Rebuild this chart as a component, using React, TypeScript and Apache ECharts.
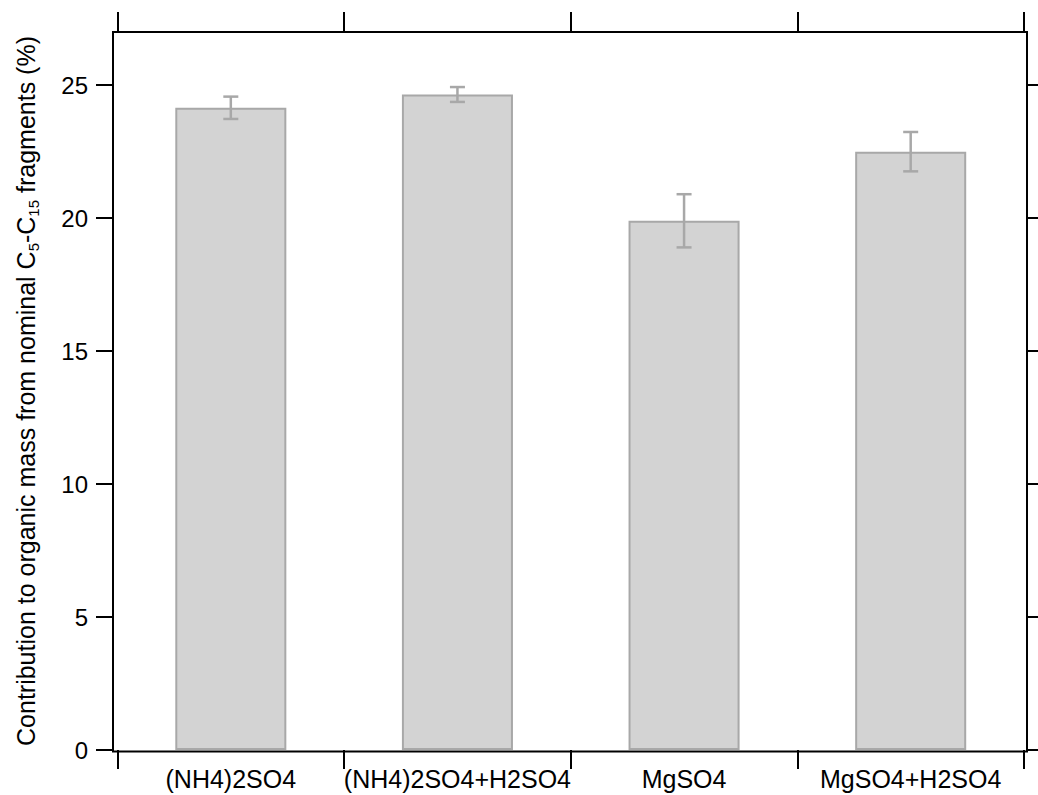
import React, { useEffect, useRef } from "react";
import * as echarts from "echarts";

const categories = ["(NH4)2SO4", "(NH4)2SO4+H2SO4", "MgSO4", "MgSO4+H2SO4"];
const values = [24.15, 24.65, 19.9, 22.5];
const errors = [0.42, 0.28, 1.0, 0.74];
const yTicks = [0, 5, 10, 15, 20, 25];

const FONT = "'Liberation Sans', Arial, sans-serif";

export default function App() {
  const ref = useRef<HTMLDivElement>(null);
  useEffect(() => {
    if (!ref.current) return;
    const chart = echarts.init(ref.current, null, { renderer: "svg" });
    const errData = values.map((v, i) => [i, v - errors[i], v + errors[i]]);
    const tickStyle = { color: "#000", width: 2 };
    chart.setOption({
      animation: false,
      backgroundColor: "#fff",
      textStyle: { fontFamily: FONT },
      grid: { left: 117.5, right: 14, top: 32, bottom: 45, containLabel: false },
      graphic: [
        {
          type: "rect",
          shape: { x: 113, y: 32, width: 914, height: 719.5 },
          style: { fill: "none", stroke: "#000", lineWidth: 2 },
          z: 10,
        },
      ],
      xAxis: [
        {
          type: "category",
          data: categories,
          position: "bottom",
          axisLine: { show: false, onZero: false },
          axisTick: { show: true, interval: 0, length: 19, inside: false, lineStyle: tickStyle },
          axisLabel: { color: "#000", fontSize: 25, fontFamily: FONT, margin: 16, interval: 0, hideOverlap: false },
          splitLine: { show: false },
        },
        {
          type: "category",
          data: categories,
          position: "top",
          axisLine: { show: false, onZero: false },
          axisTick: { show: true, interval: 0, length: 20, inside: false, lineStyle: tickStyle },
          axisLabel: { show: false, interval: 0 },
          splitLine: { show: false },
        },
      ],
      yAxis: [
        {
          type: "value",
          min: 0,
          max: 27,
          interval: 5,
          position: "left",
          offset: 4.5,
          axisLine: { show: false, onZero: false },
          axisTick: { show: true, length: 17, inside: false, lineStyle: tickStyle, customValues: yTicks },
          axisLabel: { color: "#000", fontSize: 24, fontFamily: FONT, margin: 25, customValues: yTicks },
          splitLine: { show: false },
          name: "Contribution to organic mass from nominal C{sub|5}-C{sub|15} fragments (%)",
          nameLocation: "middle",
          nameRotate: 90,
          nameGap: 72,
          nameTextStyle: {
            color: "#000",
            fontSize: 25,
            fontFamily: FONT,
            lineHeight: 30,
            rich: {
              sub: { fontSize: 15, lineHeight: 15, verticalAlign: "bottom", color: "#000", fontFamily: FONT },
            },
          },
        },
        {
          type: "value",
          min: 0,
          max: 27,
          interval: 5,
          position: "right",
          offset: 3,
          axisLine: { show: false, onZero: false },
          axisTick: { show: true, length: 17, inside: false, lineStyle: tickStyle, customValues: yTicks },
          axisLabel: { show: false },
          splitLine: { show: false },
        },
      ],
      series: [
        {
          type: "bar",
          data: values,
          barWidth: "49%",
          itemStyle: { color: "#d3d3d3", borderColor: "#a8a8a8", borderWidth: 2 },
          z: 2,
        },
        {
          type: "custom",
          data: errData,
          encode: { x: 0, y: [1, 2] },
          z: 5,
          renderItem: (params: any, api: any) => {
            const idx = api.value(0);
            const lo = api.coord([idx, api.value(1)]);
            const hi = api.coord([idx, api.value(2)]);
            const half = 7.5;
            const style = { stroke: "#a8a8a8", lineWidth: 2.5 };
            return {
              type: "group",
              children: [
                { type: "line", shape: { x1: lo[0], y1: lo[1], x2: hi[0], y2: hi[1] }, style },
                { type: "line", shape: { x1: hi[0] - half, y1: hi[1], x2: hi[0] + half, y2: hi[1] }, style },
                { type: "line", shape: { x1: lo[0] - half, y1: lo[1], x2: lo[0] + half, y2: lo[1] }, style },
              ],
            };
          },
        },
      ],
    });
    return () => chart.dispose();
  }, []);
  return (
    <div
      ref={ref}
      style={{ position: "fixed", left: 0, top: 0, width: 1038, height: 795 }}
    />
  );
}
